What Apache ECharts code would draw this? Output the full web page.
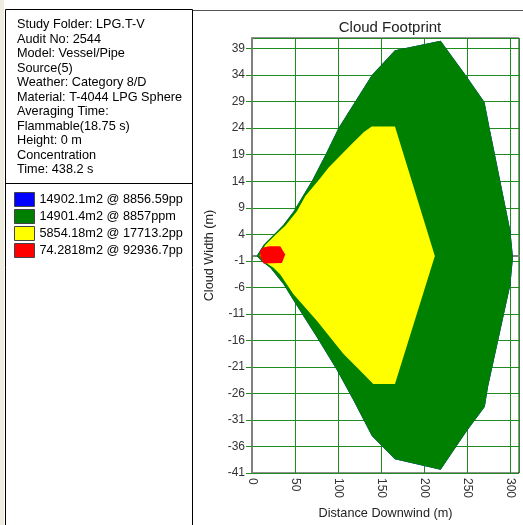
<!DOCTYPE html>
<html>
<head>
<meta charset="utf-8">
<script src="https://cdn.jsdelivr.net/npm/echarts@6/dist/echarts.min.js"></script>
<style>
  html, body { margin: 0; padding: 0; background: #fff; }
  #chart { width: 523px; height: 525px; }
</style>
</head>
<body>
<div id="chart"></div>
<script>
// info panel lines
const infoLines = [
  'Study Folder: LPG.T-V',
  'Audit No: 2544',
  'Model: Vessel/Pipe',
  'Source(5)',
  'Weather: Category 8/D',
  'Material: T-4044 LPG Sphere',
  'Averaging Time:',
  'Flammable(18.75 s)',
  'Height: 0 m',
  'Concentration',
  'Time: 438.2 s'
];

// legend names / colours
const seriesNames = [
  '14902.1m2 @ 8856.59pp',
  '14901.4m2 @ 8857ppm',
  '5854.18m2 @ 17713.2pp',
  '74.2818m2 @ 92936.7pp'
];
const seriesColors = ['#0000ff', '#008000', '#ffff00', '#ff0000'];

// footprint outlines [distance downwind, cloud width]
const greenPts = [
  [5.5, -0.1], [13.4, 2.0], [27, 4.2], [36.6, 5.8], [48.2, 8.3], [70, 14.2], [85, 18.9],
  [100.3, 24], [139, 34], [166, 38.7], [219, 40.5], [249, 33.8], [270, 28.9], [276, 23.9],
  [300, 4.6], [303, -0.4], [300, -5.5], [274, -24.8], [270.3, -28.5], [249, -33.2],
  [219, -40.4], [166, -38.4], [139, -34], [117.7, -27.3], [98.5, -21.6], [75.3, -15.4],
  [48.2, -8.5], [36.6, -5.4], [21.2, -2.3], [12, -1.2]
];
const bluePts = greenPts.slice();
const yellowPts = [
  [8.8, 0], [15.4, 2.0], [28, 4.0], [38.6, 5.6], [52, 8.3], [62, 11.2], [79, 14.5],
  [89, 16.6], [115.8, 21], [130, 23.3], [139, 24.3], [166, 24.3], [212.3, -0.1],
  [166, -24.2], [140.8, -24.2], [125.4, -21.7], [106, -18.5], [75.3, -12.3],
  [48.2, -7.3], [32.8, -3.6], [25, -2.3], [13.4, -1.1]
];
const redPts = [
  [9.6, 1.0], [13, 1.5], [20, 1.75], [32.8, 1.75], [38.6, 0.2], [34.7, -1.4], [13.4, -1.5], [9.6, -0.2]
];
const outlines = [bluePts, greenPts, yellowPts, redPts];

const FONT = 'Liberation Sans, Arial, sans-serif';

var myChart = echarts.init(document.getElementById('chart'));

function footprint(i) {
  const pts = outlines[i];
  return {
    type: 'custom',
    name: seriesNames[i],
    data: pts,
    encode: { x: 0, y: 1 },
    itemStyle: { color: seriesColors[i] },
    clip: true,
    z: 2 + i,
    renderItem: function (params, api) {
      if (params.dataIndex !== 0) return null;
      return {
        type: 'polygon',
        shape: { points: pts.map(p => api.coord(p)) },
        style: { fill: seriesColors[i] }
      };
    }
  };
}

const infoText = infoLines.map((t, i) => ({
  type: 'text',
  left: 17,
  top: 25 + i * 14.5 - 7,
  style: { text: t, font: '12.7px ' + FONT, fill: '#000' }
}));

var option = {
  animation: false,
  title: {
    text: 'Cloud Footprint',
    left: 385,
    textAlign: 'center',
    top: 15,
    textStyle: { fontSize: 15, fontWeight: 'normal', color: '#222', fontFamily: FONT }
  },
  legend: {
    orient: 'vertical',
    left: 14,
    top: 192,
    padding: 0,
    itemWidth: 20,
    itemHeight: 14,
    itemGap: 2,
    icon: 'rect',
    selectedMode: false,
    itemStyle: { borderColor: '#444', borderWidth: 1 },
    textStyle: { fontSize: 12.7, lineHeight: 14, color: '#000', fontFamily: FONT },
    data: seriesNames
  },
  grid: {
    left: 252, right: 4, top: 38, bottom: 48,
    show: true, borderColor: '#222', borderWidth: 1, backgroundColor: '#fff'
  },
  xAxis: {
    type: 'value',
    min: 0, max: 310, interval: 50,
    name: 'Distance Downwind (m)',
    nameLocation: 'middle',
    nameGap: 34,
    nameTextStyle: { fontSize: 12.7, color: '#222', fontFamily: FONT },
    axisLine: { show: true, lineStyle: { color: '#808080', width: 2 } },
    axisTick: { show: true, length: 4, lineStyle: { color: '#1e8c1e' } },
    axisLabel: { rotate: -90, margin: 5, fontSize: 12, color: '#333', fontFamily: FONT, showMaxLabel: false },
    splitLine: { show: true, lineStyle: { color: '#1e8c1e', width: 1 } }
  },
  yAxis: {
    type: 'value',
    min: -41, max: 41, interval: 5,
    name: 'Cloud Width (m)',
    nameLocation: 'middle',
    nameGap: 36,
    nameTextStyle: { fontSize: 12.7, color: '#222', fontFamily: FONT },
    axisLine: { show: true, lineStyle: { color: '#808080', width: 2 } },
    axisTick: { show: true, length: 6, lineStyle: { color: '#1e8c1e' } },
    axisLabel: { margin: 7, fontSize: 12, color: '#333', fontFamily: FONT, showMaxLabel: false },
    splitLine: { show: true, lineStyle: { color: '#1e8c1e', width: 1 } }
  },
  graphic: [
    { type: 'rect', shape: { x: 0, y: 0, width: 4, height: 525 }, style: { fill: '#efece0' }, silent: true },
    { type: 'rect', shape: { x: 5.5, y: 9.5, width: 187, height: 520 }, style: { fill: 'none', stroke: '#000', lineWidth: 1 }, silent: true },
    { type: 'line', shape: { x1: 5, y1: 183.5, x2: 193, y2: 183.5 }, style: { stroke: '#000', lineWidth: 1 }, silent: true },
    { type: 'line', shape: { x1: 193, y1: 10.5, x2: 523, y2: 10.5 }, style: { stroke: '#555', lineWidth: 1 }, silent: true }
  ].concat(infoText),
  series: [0, 1, 2, 3].map(footprint)
};

option && myChart.setOption(option);
</script>
</body>
</html>
